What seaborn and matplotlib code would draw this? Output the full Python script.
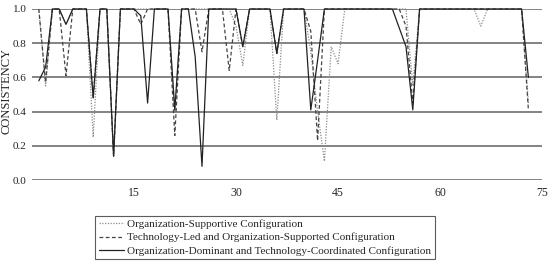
import numpy as np
import pandas as pd
import matplotlib
matplotlib.use("Agg")
import matplotlib.pyplot as plt
import seaborn as sns

cases = list(range(1, 74))

org_supportive = [1.0, 0.55, 1.0, 1.0, 0.91, 1.0, 1.0, 1.0, 0.25, 1.0,
                  1.0, 0.14, 1.0, 1.0, 1.0, 1.0, 1.0, 1.0, 1.0, 1.0,
                  0.40, 1.0, 1.0, 1.0, 1.0, 1.0, 1.0, 1.0, 1.0, 0.90,
                  0.67, 1.0, 1.0, 1.0, 1.0, 0.35, 1.0, 1.0, 1.0, 1.0,
                  0.75, 0.40, 0.11, 0.78, 0.68, 1.0, 1.0, 1.0, 1.0, 1.0,
                  1.0, 1.0, 1.0, 1.0, 1.0, 0.55, 1.0, 1.0, 1.0, 1.0,
                  1.0, 1.0, 1.0, 1.0, 1.0, 0.90, 1.0, 1.0, 1.0, 1.0,
                  1.0, 1.0, 0.45]

tech_led = [1.0, 0.57, 1.0, 1.0, 0.61, 1.0, 1.0, 1.0, 0.48, 1.0,
            1.0, 0.14, 1.0, 1.0, 1.0, 0.91, 1.0, 1.0, 1.0, 1.0,
            0.26, 1.0, 1.0, 1.0, 0.75, 1.0, 1.0, 1.0, 0.64, 1.0,
            0.78, 1.0, 1.0, 1.0, 1.0, 0.74, 1.0, 1.0, 1.0, 1.0,
            0.87, 0.23, 1.0, 1.0, 1.0, 1.0, 1.0, 1.0, 1.0, 1.0,
            1.0, 1.0, 1.0, 1.0, 0.90, 0.45, 1.0, 1.0, 1.0, 1.0,
            1.0, 1.0, 1.0, 1.0, 1.0, 1.0, 1.0, 1.0, 1.0, 1.0,
            1.0, 1.0, 0.41]

org_dominant = [0.58, 0.66, 1.0, 1.0, 0.91, 1.0, 1.0, 1.0, 0.48, 1.0,
                1.0, 0.14, 1.0, 1.0, 1.0, 0.96, 0.45, 1.0, 1.0, 1.0,
                0.41, 1.0, 1.0, 0.72, 0.08, 1.0, 1.0, 1.0, 1.0, 1.0,
                0.78, 1.0, 1.0, 1.0, 1.0, 0.74, 1.0, 1.0, 1.0, 1.0,
                0.41, 0.70, 1.0, 1.0, 1.0, 1.0, 1.0, 1.0, 1.0, 1.0,
                1.0, 1.0, 1.0, 0.89, 0.78, 0.41, 1.0, 1.0, 1.0, 1.0,
                1.0, 1.0, 1.0, 1.0, 1.0, 1.0, 1.0, 1.0, 1.0, 1.0,
                1.0, 1.0, 0.60]

series_names = ["Organization-Supportive Configuration",
                "Technology-Led and Organization-Supported Configuration",
                "Organization-Dominant and Technology-Coordinated Configuration"]

x_ticks = [15, 30, 45, 60, 75]
y_ticks = [0.0, 0.2, 0.4, 0.6, 0.8, 1.0]

frames = []
for name, vals in zip(series_names, [org_supportive, tech_led, org_dominant]):
    frames.append(pd.DataFrame({"case": cases, "consistency": vals, "config": name}))
df = pd.concat(frames, ignore_index=True)

sns.set_theme(style="white")
plt.rcParams["font.family"] = ["Liberation Serif", "DejaVu Serif"]

fig = plt.figure(figsize=(5.5, 2.72), dpi=100)
ax = fig.add_axes([32 / 550, 1 - 180 / 272, (542 - 32) / 550, (180 - 9) / 272])

palette = {series_names[0]: "#8c8c8c",
           series_names[1]: "#444444",
           series_names[2]: "#222222"}
dashes = {series_names[0]: (1, 1.2),
          series_names[1]: (3, 2),
          series_names[2]: ""}

sns.lineplot(data=df, x="case", y="consistency", hue="config", style="config",
             palette=palette, dashes=dashes, linewidth=0.9, ax=ax,
             hue_order=series_names, style_order=series_names, legend=True)

for ln in ax.lines:
    ln.set_clip_on(False)

ax.set_xlim(0, 75)
ax.set_ylim(0, 1.0)
ax.set_xticks(x_ticks)
ax.set_yticks(y_ticks)
ax.set_yticklabels([f"{v:.1f}" for v in y_ticks], fontsize=8)
ax.set_xticklabels([str(v) for v in x_ticks], fontsize=8.5)
ax.tick_params(axis="y", length=0, pad=4)
ax.tick_params(axis="x", length=0, pad=5)
ax.grid(axis="y", color="#7a7a7a", linewidth=1.3)
ax.grid(axis="x", visible=False)
ax.set_axisbelow(True)
for s in ax.spines.values():
    s.set_visible(False)
ax.set_xlabel("")
ax.set_ylabel("")
fig.text(7 / 550, 1 - 91 / 272, "CONSISTENCY", rotation=90, fontsize=9,
         ha="center", va="center", color="#222222")

handles, labels = ax.get_legend_handles_labels()
ax.get_legend().remove()
leg = fig.legend(handles, labels, loc="center", bbox_to_anchor=(265 / 550, 1 - 237.5 / 272),
                 fontsize=8, frameon=True, fancybox=False, handlelength=2.2,
                 handletextpad=0.3, borderpad=0.35, labelspacing=0.3, borderaxespad=0)
leg.get_frame().set_edgecolor("#333333")
leg.get_frame().set_linewidth(0.8)

fig.savefig("out.png", dpi=100)
